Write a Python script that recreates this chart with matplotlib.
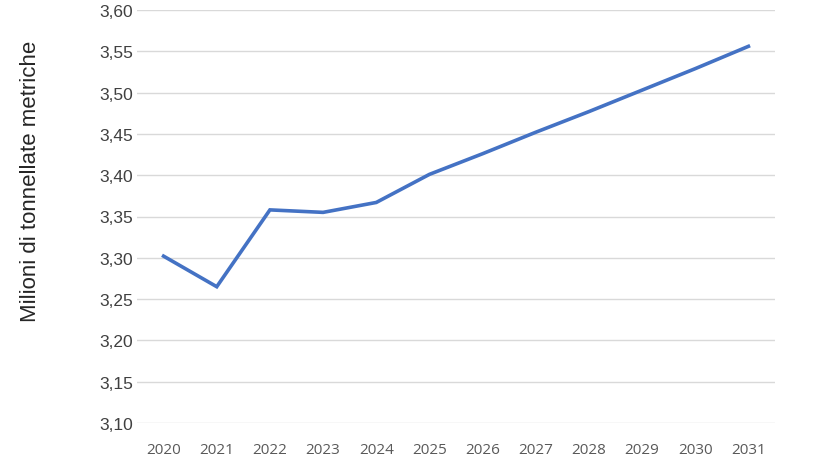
import matplotlib
matplotlib.use("Agg")
import matplotlib.pyplot as plt
from matplotlib.ticker import FuncFormatter, MultipleLocator

years = ["2020", "2021", "2022", "2023", "2024", "2025",
         "2026", "2027", "2028", "2029", "2030", "2031"]
values = [3.302, 3.265, 3.358, 3.355, 3.367, 3.401,
          3.426, 3.452, 3.477, 3.503, 3.529, 3.556]

fig = plt.figure(figsize=(8.2, 4.6), dpi=100)
ax = fig.add_axes([137 / 820, 1 - 424 / 460, (775 - 137) / 820, (424 - 11) / 460])

x = list(range(len(years)))
ax.plot(x, values, color="#4472C4", linewidth=2.6, solid_joinstyle="miter")

ax.set_xlim(-0.5, len(years) - 0.5)
ax.set_ylim(3.10, 3.60)
ax.yaxis.set_major_locator(MultipleLocator(0.05))
ax.yaxis.set_major_formatter(FuncFormatter(lambda v, p: f"{v:.2f}".replace(".", ",")))
ax.grid(axis="y", color="#d9d9d9", linewidth=1)
ax.set_axisbelow(True)
for s in ax.spines.values():
    s.set_visible(False)
ax.tick_params(axis="both", length=0)
ax.tick_params(axis="y", labelsize=12.5, colors="#404040", pad=3,
               labelfontfamily="Liberation Sans")
ax.set_xticks(x)
ax.set_xticklabels(years, fontsize=11, color="#595959", family="Open Sans")
ax.tick_params(axis="x", pad=14)

fig.text(31 / 820, 1 - 181 / 460, "Milioni di tonnellate metriche", rotation=90,
         ha="center", va="center", fontsize=16, color="#262626",
         family="Liberation Sans")

fig.savefig("out.png", dpi=100, facecolor="white")
